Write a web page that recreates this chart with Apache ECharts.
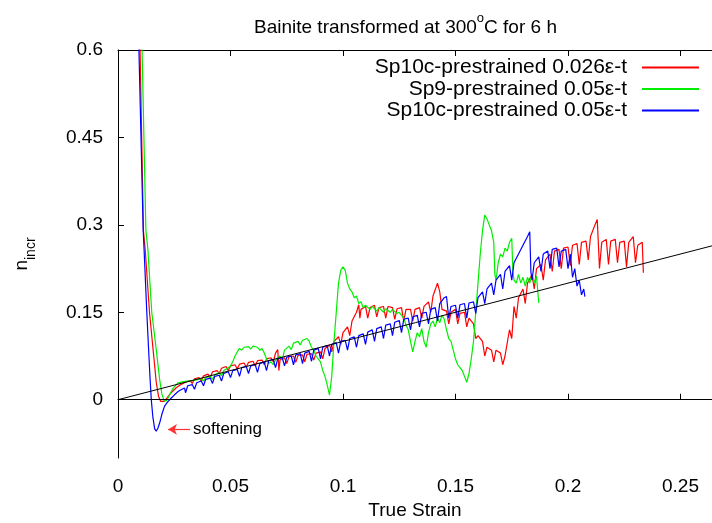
<!DOCTYPE html>
<html><head><meta charset="utf-8">
<script src="https://cdn.jsdelivr.net/npm/echarts@6/dist/echarts.min.js"></script>
<style>html,body{margin:0;padding:0;background:#fff;overflow:hidden}#c{width:712px;height:523px}</style>
</head><body><div id="c"></div>
<script>
const seriesNames = ['Sp10c-prestrained 0.026\u03b5-t', 'Sp9-prestrained 0.05\u03b5-t', 'Sp10c-prestrained 0.05\u03b5-t'];
const seriesColors = ['#ff0000', '#00ee00', '#0000ff'];
const xTicks = [0, 0.05, 0.1, 0.15, 0.2, 0.25];
const yTicks = [0, 0.15, 0.3, 0.45, 0.6];

const red = [[0.0090,0.75],[0.0098,0.60],[0.0113,0.29],[0.0121,0.257],[0.0140,0.15],[0.0156,0.086],[0.0170,0.03],[0.0180,0.006],[0.0190,-0.003],[0.0205,-0.003],[0.0220,0.004],[0.0236,0.012],[0.0260,0.021],[0.0280,0.026],[0.0300,0.030],[0.0320,0.033],[0.0330,0.028],[0.0340,0.036],[0.0360,0.038],[0.0370,0.032],[0.0380,0.041],[0.0400,0.044],[0.0410,0.038],[0.0420,0.048],[0.0440,0.05],[0.0450,0.045],[0.0460,0.054],[0.0480,0.057],[0.0490,0.05],[0.0500,0.058],[0.0520,0.06],[0.0530,0.053],[0.0540,0.061],[0.0560,0.063],[0.0570,0.056],[0.0580,0.064],[0.0600,0.066],[0.0610,0.058],[0.0620,0.067],[0.0640,0.068],[0.0650,0.06],[0.0660,0.07],[0.0680,0.072],[0.0690,0.065],[0.0700,0.08],[0.0710,0.086],[0.0715,0.05],[0.0720,0.068],[0.0740,0.072],[0.0750,0.062],[0.0760,0.074],[0.0780,0.075],[0.0790,0.064],[0.0800,0.076],[0.0820,0.077],[0.0830,0.065],[0.0840,0.078],[0.0860,0.079],[0.0870,0.068],[0.0880,0.08],[0.0900,0.082],[0.0910,0.07],[0.0920,0.088],[0.0940,0.094],[0.0950,0.082],[0.0960,0.1],[0.0980,0.108],[0.0990,0.095],[0.1000,0.115],[0.1020,0.125],[0.1030,0.11],[0.1040,0.135],[0.1060,0.15],[0.1070,0.163],[0.1075,0.14],[0.1080,0.155],[0.1100,0.16],[0.1110,0.14],[0.1120,0.158],[0.1140,0.162],[0.1150,0.142],[0.1160,0.158],[0.1180,0.16],[0.1190,0.14],[0.1200,0.16],[0.1220,0.158],[0.1230,0.138],[0.1240,0.156],[0.1260,0.158],[0.1270,0.135],[0.1280,0.155],[0.1300,0.155],[0.1310,0.135],[0.1320,0.155],[0.1340,0.158],[0.1350,0.14],[0.1360,0.16],[0.1380,0.168],[0.1390,0.15],[0.1400,0.178],[0.1420,0.2],[0.1430,0.185],[0.1440,0.155],[0.1460,0.152],[0.1470,0.13],[0.1480,0.15],[0.1500,0.155],[0.1510,0.13],[0.1520,0.148],[0.1540,0.15],[0.1550,0.125],[0.1560,0.14],[0.1580,0.13],[0.1590,0.105],[0.1600,0.11],[0.1620,0.1],[0.1630,0.075],[0.1640,0.09],[0.1660,0.085],[0.1670,0.065],[0.1680,0.085],[0.1700,0.08],[0.1710,0.06],[0.1720,0.075],[0.1740,0.12],[0.1750,0.105],[0.1760,0.16],[0.1770,0.14],[0.1780,0.175],[0.1800,0.19],[0.1810,0.165],[0.1820,0.2],[0.1840,0.215],[0.1850,0.19],[0.1860,0.225],[0.1880,0.232],[0.1890,0.205],[0.1900,0.24],[0.1920,0.25],[0.1930,0.22],[0.1940,0.255],[0.1960,0.258],[0.1970,0.225],[0.1980,0.26],[0.2000,0.262],[0.2010,0.23],[0.2020,0.265],[0.2040,0.268],[0.2050,0.232],[0.2060,0.27],[0.2080,0.272],[0.2090,0.24],[0.2100,0.28],[0.2120,0.3],[0.2130,0.309],[0.2140,0.225],[0.2150,0.27],[0.2170,0.275],[0.2180,0.232],[0.2190,0.272],[0.2210,0.275],[0.2220,0.235],[0.2230,0.27],[0.2250,0.272],[0.2260,0.228],[0.2270,0.27],[0.2290,0.28],[0.2300,0.235],[0.2310,0.265],[0.2330,0.27],[0.2335,0.218]];

const green = [[0.0100,0.75],[0.0107,0.60],[0.0124,0.29],[0.0133,0.257],[0.0150,0.15],[0.0170,0.086],[0.0185,0.035],[0.0195,0.01],[0.0205,-0.002],[0.0215,-0.002],[0.0225,0.005],[0.0245,0.02],[0.0267,0.029],[0.0290,0.031],[0.0310,0.032],[0.0330,0.033],[0.0350,0.034],[0.0370,0.036],[0.0380,0.032],[0.0390,0.038],[0.0410,0.04],[0.0420,0.035],[0.0430,0.043],[0.0450,0.046],[0.0460,0.041],[0.0470,0.05],[0.0490,0.055],[0.0500,0.058],[0.0510,0.065],[0.0520,0.075],[0.0530,0.082],[0.0540,0.088],[0.0550,0.085],[0.0560,0.09],[0.0580,0.091],[0.0590,0.087],[0.0600,0.092],[0.0620,0.09],[0.0630,0.085],[0.0640,0.088],[0.0650,0.08],[0.0660,0.07],[0.0670,0.062],[0.0680,0.065],[0.0690,0.06],[0.0700,0.068],[0.0720,0.075],[0.0730,0.068],[0.0740,0.085],[0.0760,0.092],[0.0770,0.086],[0.0780,0.097],[0.0800,0.1],[0.0810,0.094],[0.0820,0.102],[0.0840,0.105],[0.0850,0.1],[0.0860,0.09],[0.0870,0.085],[0.0880,0.075],[0.0900,0.065],[0.0910,0.05],[0.0920,0.04],[0.0930,0.025],[0.0940,0.008],[0.0950,0.04],[0.0960,0.1],[0.0970,0.15],[0.0980,0.2],[0.0990,0.222],[0.1000,0.228],[0.1010,0.222],[0.1020,0.2],[0.1030,0.19],[0.1040,0.185],[0.1050,0.175],[0.1060,0.178],[0.1070,0.165],[0.1080,0.168],[0.1090,0.158],[0.1100,0.162],[0.1120,0.155],[0.1130,0.16],[0.1150,0.152],[0.1160,0.158],[0.1180,0.15],[0.1190,0.156],[0.1210,0.15],[0.1220,0.155],[0.1240,0.148],[0.1250,0.15],[0.1270,0.14],[0.1280,0.128],[0.1290,0.12],[0.1300,0.1],[0.1310,0.082],[0.1320,0.1],[0.1330,0.115],[0.1340,0.108],[0.1350,0.122],[0.1360,0.1],[0.1370,0.09],[0.1380,0.115],[0.1390,0.13],[0.1400,0.135],[0.1410,0.125],[0.1420,0.14],[0.1430,0.132],[0.1440,0.145],[0.1450,0.138],[0.1460,0.12],[0.1470,0.105],[0.1480,0.1],[0.1490,0.085],[0.1500,0.07],[0.1510,0.06],[0.1520,0.055],[0.1530,0.05],[0.1540,0.04],[0.1550,0.03],[0.1560,0.045],[0.1570,0.07],[0.1580,0.1],[0.1590,0.15],[0.1600,0.2],[0.1610,0.25],[0.1620,0.29],[0.1630,0.317],[0.1640,0.31],[0.1650,0.3],[0.1660,0.29],[0.1670,0.27],[0.1675,0.215],[0.1680,0.205],[0.1690,0.235],[0.1700,0.25],[0.1710,0.245],[0.1720,0.26],[0.1730,0.255],[0.1740,0.27],[0.1750,0.277],[0.1755,0.22],[0.1760,0.205],[0.1770,0.2],[0.1780,0.215],[0.1790,0.2],[0.1800,0.21],[0.1810,0.195],[0.1820,0.21],[0.1830,0.2],[0.1840,0.215],[0.1850,0.2],[0.1860,0.212],[0.1870,0.166]];

const blue = [[0.0085,0.75],[0.0093,0.60],[0.0112,0.29],[0.0116,0.257],[0.0128,0.15],[0.0136,0.086],[0.0142,0.04],[0.0148,0.0],[0.0155,-0.03],[0.0163,-0.05],[0.0170,-0.054],[0.0178,-0.048],[0.0185,-0.04],[0.0195,-0.025],[0.0207,-0.011],[0.0220,-0.004],[0.0237,0.003],[0.0250,0.008],[0.0267,0.014],[0.0280,0.017],[0.0296,0.02],[0.0300,0.012],[0.0310,0.024],[0.0330,0.026],[0.0340,0.018],[0.0350,0.029],[0.0370,0.032],[0.0380,0.024],[0.0390,0.035],[0.0410,0.037],[0.0420,0.028],[0.0430,0.04],[0.0450,0.042],[0.0460,0.032],[0.0470,0.045],[0.0490,0.048],[0.0500,0.038],[0.0510,0.05],[0.0530,0.052],[0.0540,0.04],[0.0550,0.055],[0.0570,0.057],[0.0580,0.045],[0.0590,0.058],[0.0610,0.06],[0.0620,0.047],[0.0630,0.062],[0.0650,0.065],[0.0660,0.05],[0.0670,0.067],[0.0690,0.069],[0.0700,0.055],[0.0710,0.07],[0.0730,0.072],[0.0740,0.058],[0.0750,0.073],[0.0770,0.075],[0.0780,0.06],[0.0790,0.077],[0.0810,0.079],[0.0820,0.062],[0.0830,0.08],[0.0850,0.083],[0.0860,0.066],[0.0870,0.085],[0.0890,0.088],[0.0900,0.07],[0.0910,0.09],[0.0930,0.093],[0.0940,0.075],[0.0950,0.095],[0.0970,0.098],[0.0980,0.08],[0.0990,0.1],[0.1010,0.102],[0.1020,0.085],[0.1030,0.105],[0.1050,0.108],[0.1060,0.09],[0.1070,0.11],[0.1090,0.113],[0.1100,0.095],[0.1110,0.116],[0.1130,0.12],[0.1140,0.1],[0.1150,0.122],[0.1170,0.125],[0.1180,0.105],[0.1190,0.128],[0.1210,0.13],[0.1220,0.11],[0.1230,0.133],[0.1250,0.136],[0.1260,0.115],[0.1270,0.138],[0.1290,0.14],[0.1300,0.12],[0.1310,0.142],[0.1330,0.145],[0.1340,0.125],[0.1350,0.148],[0.1370,0.15],[0.1380,0.13],[0.1390,0.155],[0.1410,0.158],[0.1420,0.135],[0.1430,0.165],[0.1450,0.175],[0.1460,0.177],[0.1470,0.14],[0.1480,0.16],[0.1500,0.162],[0.1510,0.14],[0.1520,0.163],[0.1540,0.165],[0.1550,0.14],[0.1560,0.166],[0.1580,0.168],[0.1590,0.148],[0.1600,0.175],[0.1620,0.185],[0.1630,0.165],[0.1640,0.19],[0.1660,0.2],[0.1670,0.18],[0.1680,0.205],[0.1700,0.215],[0.1710,0.19],[0.1720,0.22],[0.1740,0.23],[0.1750,0.205],[0.1760,0.235],[0.1780,0.25],[0.1800,0.265],[0.1820,0.28],[0.1830,0.288],[0.1835,0.22],[0.1840,0.205],[0.1850,0.235],[0.1870,0.245],[0.1880,0.22],[0.1890,0.25],[0.1910,0.255],[0.1920,0.225],[0.1930,0.258],[0.1950,0.26],[0.1960,0.228],[0.1970,0.255],[0.1990,0.258],[0.2000,0.225],[0.2010,0.25],[0.2020,0.21],[0.2030,0.225],[0.2040,0.195],[0.2050,0.205],[0.2060,0.18],[0.2070,0.19],[0.2075,0.177]];

const fitLine = [[0, 0], [0.27, 0.27]];
const softeningFrom = [0.032, -0.051];
const softeningTo = [0.0222, -0.051];
const softeningText = 'softening';

const FONT = 'Liberation Sans, Arial, sans-serif';
const chart = echarts.init(document.getElementById('c'), null, {renderer: 'canvas'});

function curve(name, data, color) {
  return {
    name: name, type: 'line', data: data, showSymbol: false, symbol: 'none',
    animation: false, clip: true, silent: true,
    lineStyle: {color: color, width: 1.2}, itemStyle: {color: color}
  };
}

const option = {
  animation: false,
  backgroundColor: '#ffffff',
  textStyle: {fontFamily: FONT},
  title: {
    text: '{a|Bainite transformed at 300}{s|o}{a|C for 6 h}',
    left: 249, top: 7,
    textStyle: {
      fontWeight: 'normal',
      rich: {
        a: {fontSize: 19, fontWeight: 'normal', fontFamily: FONT, color: '#000', verticalAlign: 'bottom', lineHeight: 25},
        s: {fontSize: 13, fontWeight: 'normal', fontFamily: FONT, color: '#000', verticalAlign: 'top', lineHeight: 25}
      }
    }
  },
  legend: {
    orient: 'vertical', right: 13, top: 57, align: 'right', padding: 0,
    itemWidth: 57, itemHeight: 2, itemGap: 0.5,
    textStyle: {fontSize: 21, fontFamily: FONT, color: '#000', lineHeight: 21, padding: [0, 10, 0, 0]},
    data: seriesNames.map((n, i) => ({name: n, icon: 'rect', itemStyle: {color: seriesColors[i], borderWidth: 0}}))
  },
  grid: {left: 118, right: 0, top: 50, bottom: 65, containLabel: false, outerBoundsMode: 'none'},
  xAxis: [{
    type: 'value', min: 0, max: 0.264, position: 'bottom',
    name: 'True Strain', nameLocation: 'middle', nameGap: 37,
    nameTextStyle: {fontSize: 19, fontFamily: FONT, color: '#000'},
    axisLine: {show: true, lineStyle: {color: '#000', width: 1}},
    axisTick: {show: true, inside: true, length: 6, customValues: xTicks, lineStyle: {color: '#000'}},
    axisLabel: {customValues: xTicks, fontSize: 19, fontFamily: FONT, color: '#000', margin: 19},
    splitLine: {show: false}
  }, {
    type: 'value', min: 0, max: 0.264, position: 'top',
    axisLine: {show: true, lineStyle: {color: '#000', width: 1}},
    axisTick: {show: true, inside: true, length: 6, customValues: xTicks, lineStyle: {color: '#000'}},
    axisLabel: {show: false},
    splitLine: {show: false}
  }],
  yAxis: {
    type: 'value', min: -0.1, max: 0.6,
    name: '{n|n}{s|incr}', nameLocation: 'middle', nameGap: 80, nameRotate: 90,
    nameTextStyle: {
      rich: {
        n: {fontSize: 19, fontFamily: FONT, color: '#000', verticalAlign: 'top', lineHeight: 26},
        s: {fontSize: 14, fontFamily: FONT, color: '#000', verticalAlign: 'bottom', lineHeight: 26}
      }
    },
    axisLine: {show: true, lineStyle: {color: '#000', width: 1}},
    axisTick: {show: true, inside: true, length: 6, customValues: yTicks, lineStyle: {color: '#000'}},
    axisLabel: {customValues: yTicks, fontSize: 19, fontFamily: FONT, color: '#000', margin: 15},
    splitLine: {show: false}
  },
  series: [
    curve(seriesNames[0], red, seriesColors[0]),
    curve(seriesNames[1], green, seriesColors[1]),
    curve(seriesNames[2], blue, seriesColors[2]),
    {
      name: 'fit', type: 'line', data: fitLine, showSymbol: false, symbol: 'none', silent: true,
      clip: true, lineStyle: {color: '#000', width: 1},
      markLine: {
        silent: true, symbol: ['none', 'none'], animation: false,
        lineStyle: {color: '#000', width: 1, type: 'solid'},
        label: {show: false},
        data: [{yAxis: 0}]
      }
    },
    {
      name: 'arrow', type: 'line', data: [], silent: true,
      markLine: {
        silent: true, animation: false,
        symbol: ['none', 'arrow'], symbolSize: [8, 9],
        lineStyle: {color: '#ff3333', width: 1.2, type: 'solid'},
        label: {show: true, position: 'start', formatter: softeningText, fontSize: 17, fontFamily: FONT, color: '#000', distance: 3},
        data: [[{coord: softeningFrom}, {coord: softeningTo}]]
      }
    }
  ]
};
chart.setOption(option);
</script>
</body></html>
